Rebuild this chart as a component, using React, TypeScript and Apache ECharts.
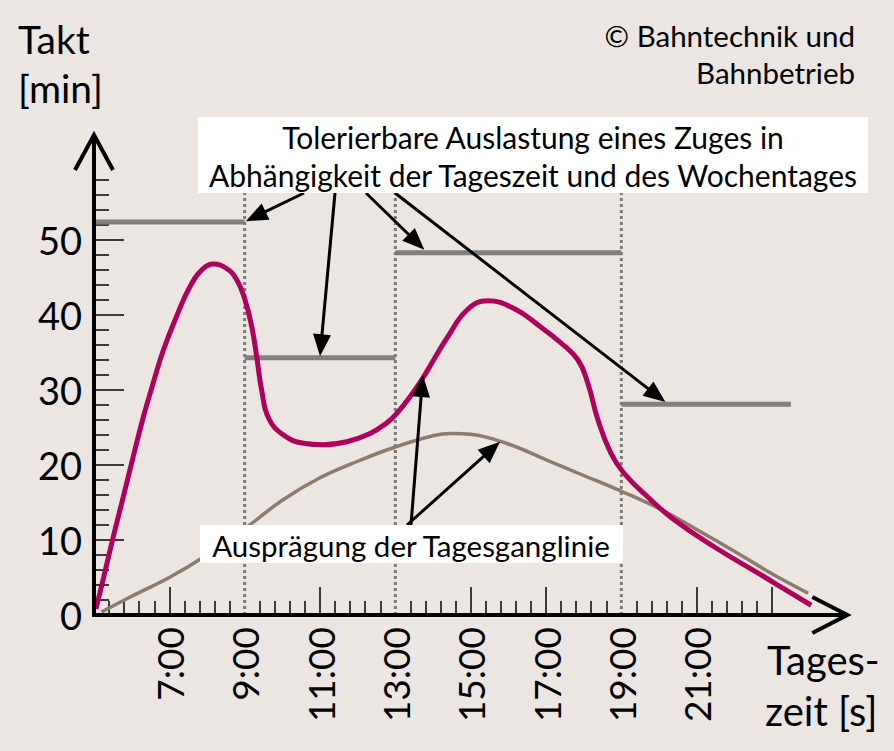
import React, { useEffect, useRef } from "react";
import * as echarts from "echarts";

// Axis ticks / labels (hours of the day, Takt in minutes)
const hourLabels = [7, 9, 11, 13, 15, 17, 19, 21];
const majorTickHours = [7, 11, 15, 17, 21, 23];
const dividerHours = [9, 13, 19];
const dividerTop = 60;
const yLabels = [0, 10, 20, 30, 40, 50];

// Tolerable load per time window
const toleranceStart = [5, 9, 13, 19];
const toleranceEnd = [9, 13, 19, 23.5];
const toleranceValue = [52.4, 34.3, 48.3, 28.1];

// Daily curve (magenta)
const peakHours = [5.05, 5.25, 5.51, 5.78, 6.04, 6.31, 6.57, 6.84, 7.19, 7.55, 7.9, 8.17, 8.52, 8.79, 9.01, 9.19, 9.32, 9.45, 9.64, 10.03, 10.56, 11.09, 11.71, 12.33, 12.77, 13.04, 13.39, 13.73, 14.05, 14.38, 14.91, 15.45, 16.14, 16.86, 17.39, 17.85, 18.11, 18.38, 18.72, 19.07, 19.71, 20.4, 21.46, 22.79, 24.04];
const peakValues = [0.8, 4.9, 10.4, 15.8, 21.1, 26.4, 30.9, 35.3, 39.8, 43.8, 46.2, 46.8, 46.2, 44.7, 42.0, 38.4, 34.4, 30.0, 26.2, 24.0, 22.9, 22.7, 23.1, 24.2, 25.6, 26.9, 29.1, 31.6, 34.3, 37.0, 40.7, 41.9, 40.9, 38.4, 36.3, 34.0, 30.9, 26.0, 21.6, 18.9, 15.7, 12.7, 9.1, 5.1, 1.3];

// Daily curve (brown)
const baseHours = [5.2, 6, 7, 8, 9, 10, 11, 12, 13, 14, 14.5, 15, 16, 17, 18, 19, 20, 21, 22, 23, 23.96];
const baseValues = [0.4, 2.5, 5.0, 8.0, 11.5, 15.3, 18.3, 20.5, 22.4, 23.9, 24.2, 24.1, 22.8, 20.7, 18.6, 16.5, 14.2, 11.4, 8.5, 5.5, 2.9];

// Annotation arrows: start (pixel at box edge) and target (data coords)
const topArrowStarts = [[304, 193], [335, 193], [366, 193], [395, 193]];
const topArrowTargets = [[9.03, 52.5], [11.0, 34.5], [13.77, 48.7], [20.17, 28.4]];
const bottomArrowStarts = [[411, 525], [407, 525]];
const bottomArrowTargets = [[13.73, 32.0], [15.78, 23.1]];

const FONT = "Lato";

export default function App() {
  const ref = useRef<HTMLDivElement>(null);
  useEffect(() => {
    const chart = echarts.init(ref.current!, null, { renderer: "svg" });
    const series: any[] = [];
    const onData = { xAxisIndex: 1, yAxisIndex: 1 };
    dividerHours.forEach((h) =>
      series.push({
        type: "line",
        ...onData,
        data: [[h, 0], [h, dividerTop]],
        symbol: "none",
        silent: true,
        lineStyle: { color: "#7a7a7a", width: 3, type: [3, 3] },
        z: 1,
      })
    );
    toleranceStart.forEach((s, i) =>
      series.push({
        type: "line",
        ...onData,
        data: [[s, toleranceValue[i]], [toleranceEnd[i], toleranceValue[i]]],
        symbol: "none",
        silent: true,
        lineStyle: { color: "#808080", width: 5, cap: "butt" },
        z: 2,
      })
    );
    series.push({
      type: "line",
      ...onData,
      data: baseHours.map((h, i) => [h, baseValues[i]]),
      smooth: 0.4,
      symbol: "none",
      lineStyle: { color: "#8d7b6b", width: 3.5 },
      z: 3,
    });
    series.push({
      type: "line",
      ...onData,
      data: peakHours.map((h, i) => [h, peakValues[i]]),
      smooth: 0.45,
      symbol: "none",
      lineStyle: { color: "#b1005b", width: 5 },
      z: 4,
    });

    const tickLine = { color: "#000", width: 1.5 };
    const hidden = { show: false };
    chart.setOption({
      animation: false,
      backgroundColor: "#ebe6e1",
      grid: [
        { left: 94, right: 122, top: 176.25, bottom: 136 },
        { left: 94, right: 46.667, top: 135, bottom: 136 },
      ],
      xAxis: [
        {
          type: "value",
          gridIndex: 0,
          min: 5,
          max: 23,
          interval: 2,
          axisLine: hidden,
          splitLine: hidden,
          axisTick: { show: true, inside: true, length: 28, customValues: majorTickHours, lineStyle: tickLine },
          minorTick: { show: true, splitNumber: 5, length: 14, lineStyle: tickLine },
          axisLabel: {
            customValues: hourLabels,
            formatter: (v: number) => `${v}:00`,
            rotate: 90,
            margin: 12,
            fontSize: 37,
            fontFamily: FONT,
            color: "#000",
          },
        },
        { type: "value", gridIndex: 1, min: 5, max: 25, show: false },
      ],
      yAxis: [
        {
          type: "value",
          gridIndex: 0,
          min: 0,
          max: 58.5,
          interval: 10,
          axisLine: hidden,
          splitLine: hidden,
          axisTick: { show: true, inside: true, length: 30, customValues: yLabels, lineStyle: tickLine },
          minorTick: { show: true, splitNumber: 5, length: 15, lineStyle: tickLine },
          axisLabel: { customValues: yLabels, margin: 12, fontSize: 38, fontFamily: FONT, color: "#000" },
        },
        { type: "value", gridIndex: 1, min: 0, max: 64, show: false },
      ],
      series,
    });

    const p = (x: number, y: number) => chart.convertToPixel({ xAxisIndex: 1, yAxisIndex: 1 } as any, [x, y]) as number[];
    const o = p(5, 0);
    const xe = p(25, 0);
    const ye = p(5, 64);
    const axisStyle = { stroke: "#000", lineWidth: 4, lineJoin: "miter", fill: null };

    const arrow = (sx: number, sy: number, tx: number, ty: number) => {
      const dx = tx - sx, dy = ty - sy;
      const len = Math.hypot(dx, dy);
      const ux = dx / len, uy = dy / len;
      const hl = 22, hw = 9;
      const bx = tx - ux * hl, by = ty - uy * hl;
      return [
        { type: "line", z: 50, shape: { x1: sx, y1: sy, x2: bx + ux * 3, y2: by + uy * 3 }, style: { stroke: "#000", lineWidth: 3 } },
        { type: "polygon", z: 50, shape: { points: [[tx, ty], [bx - uy * hw, by + ux * hw], [bx + uy * hw, by - ux * hw]] }, style: { fill: "#000" } },
      ];
    };
    const arrows: any[] = [];
    topArrowStarts.forEach((s, i) => {
      const t = p(topArrowTargets[i][0], topArrowTargets[i][1]);
      arrows.push(...arrow(s[0], s[1], t[0], t[1]));
    });
    bottomArrowStarts.forEach((s, i) => {
      const t = p(bottomArrowTargets[i][0], bottomArrowTargets[i][1]);
      arrows.push(...arrow(s[0], s[1], t[0], t[1]));
    });

    const txt = (text: string, x: number, y: number, size: number, align = "left") => ({
      type: "text",
      z: 70,
      style: {
        text, x, y, fill: "#000",
        font: `${size}px ${FONT}`,
        fontSize: size, fontFamily: FONT,
        align, textAlign: align, verticalAlign: "middle", textVerticalAlign: "middle",
      },
    });

    chart.setOption({
      graphic: [
        { type: "polyline", z: 40, shape: { points: [[o[0] - 2, o[1]], xe] }, style: axisStyle },
        { type: "polyline", z: 40, shape: { points: [[o[0], o[1] + 2], ye] }, style: axisStyle },
        { type: "polyline", z: 40, shape: { points: [[xe[0] - 35, xe[1] - 18], xe, [xe[0] - 35, xe[1] + 18]] }, style: axisStyle },
        { type: "polyline", z: 40, shape: { points: [[ye[0] - 19, ye[1] + 35], ye, [ye[0] + 19, ye[1] + 35]] }, style: axisStyle },
        ...arrows,
        { type: "rect", z: 60, shape: { x: 198, y: 117, width: 670, height: 76 }, style: { fill: "#ffffff" } },
        txt("Tolerierbare Auslastung eines Zuges in", 533, 137, 30, "center"),
        txt("Abhängigkeit der Tageszeit und des Wochentages", 533, 175, 30, "center"),
        { type: "rect", z: 60, shape: { x: 200, y: 525, width: 423, height: 38 }, style: { fill: "#ffffff" } },
        txt("Ausprägung der Tagesganglinie", 411, 545, 29.5, "center"),
        txt("Takt", 18, 39, 39),
        txt("[min]", 18, 88, 39),
        txt("© Bahntechnik und", 855, 35, 29.5, "right"),
        txt("Bahnbetrieb", 855, 72, 29.5, "right"),
        txt("Tages-", 767, 660, 40),
        txt("zeit [s]", 765, 711, 40),
      ],
    });
    return () => chart.dispose();
  }, []);
  return <div ref={ref} style={{ position: "absolute", left: 0, top: 0, width: 894, height: 751 }} />;
}
